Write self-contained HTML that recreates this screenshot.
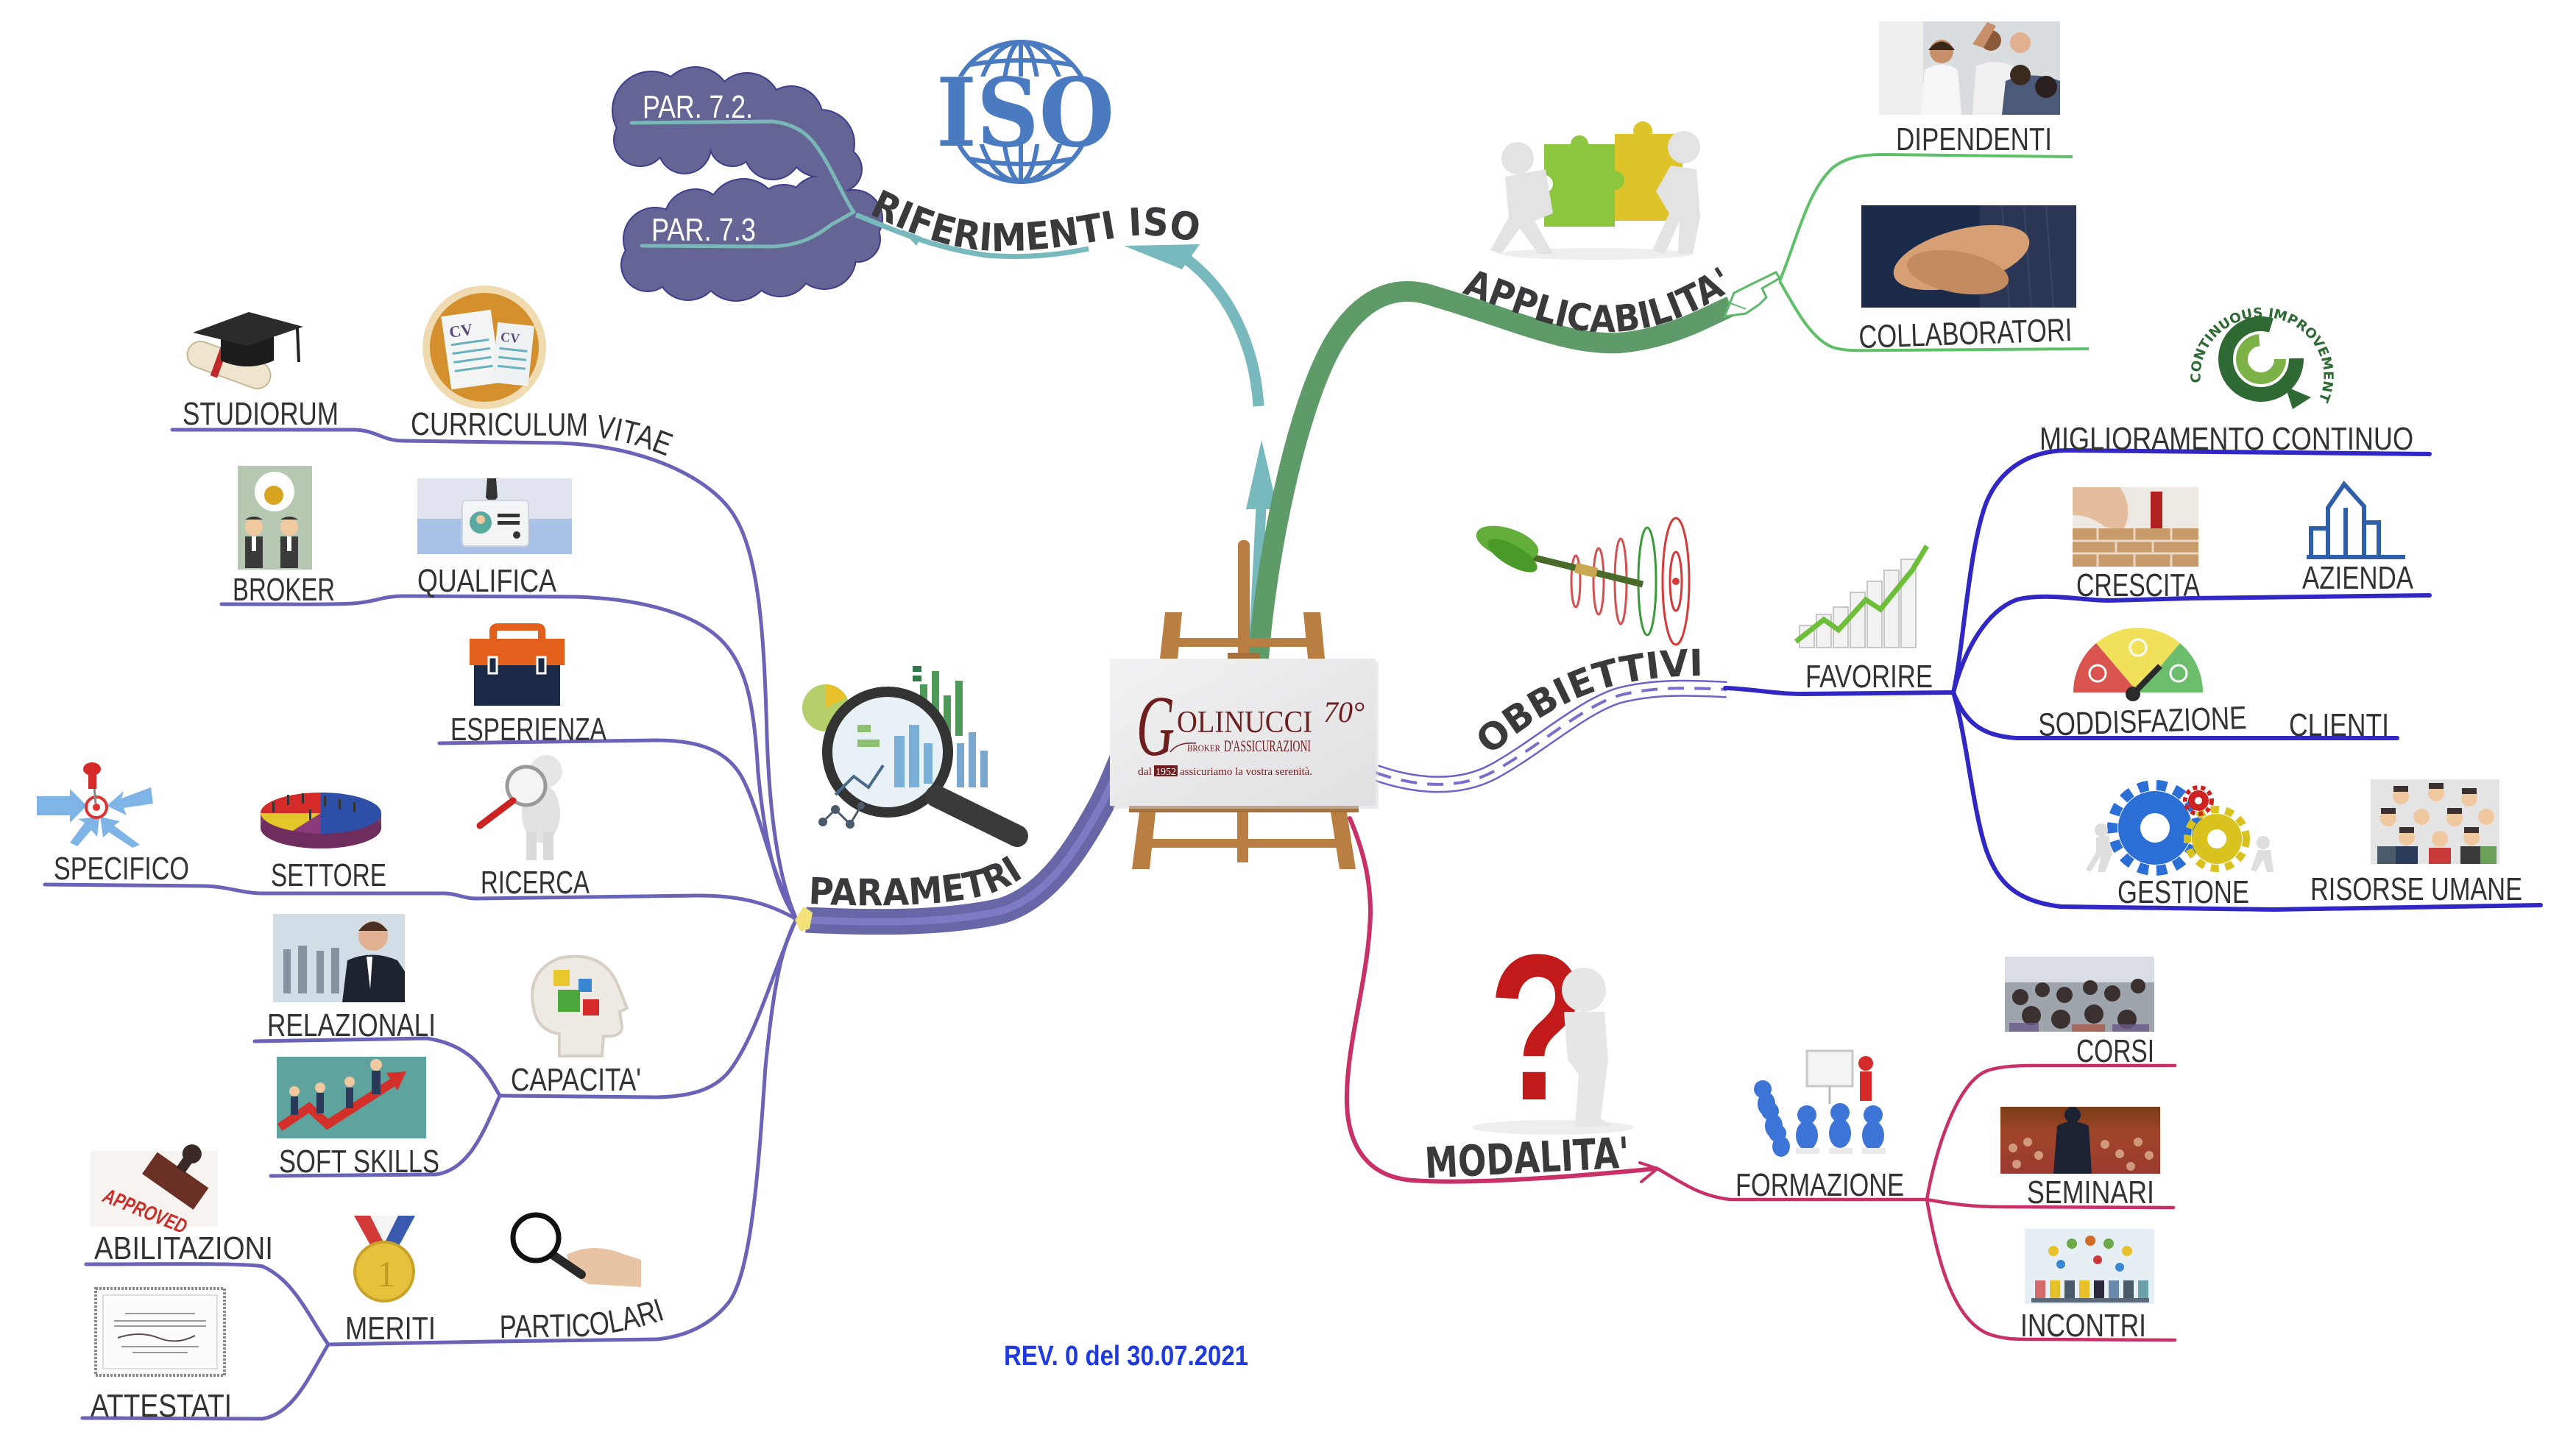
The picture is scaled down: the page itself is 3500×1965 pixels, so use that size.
<!DOCTYPE html>
<html><head><meta charset="utf-8">
<style>
html,body{margin:0;padding:0;background:#fff;}
svg{display:block;}
.l{font-family:"Liberation Sans",sans-serif;font-size:44px;fill:#323232;}
.b{font-family:"DejaVu Sans","Liberation Sans",sans-serif;font-weight:bold;fill:#3a3a3c;}
</style></head><body>
<svg width="3500" height="1965" viewBox="0 0 3500 1965" xmlns="http://www.w3.org/2000/svg">
<defs>
<linearGradient id="board" x1="0" y1="0" x2="1" y2="1"><stop offset="0" stop-color="#f2f2f3"/><stop offset="1" stop-color="#e0e0e2"/></linearGradient>
<linearGradient id="sem" x1="0" y1="0" x2="0" y2="1"><stop offset="0" stop-color="#7a3c18"/><stop offset="0.4" stop-color="#a0452a"/><stop offset="1" stop-color="#9a3a30"/></linearGradient>
<path id="pRif" d="M1180 290 C1250 324 1300 341 1360 341 C1430 341 1490 327 1530 321 C1570 317 1600 322 1645 334"/>
<path id="pApp" d="M1986 398 C2060 425 2120 452 2185 451 C2255 450 2305 425 2362 388"/>
<path id="pObb" d="M2024 1027 C2070 987 2130 946 2200 930 C2240 921 2280 918 2320 918"/>
<path id="pPar" d="M1098 1228 C1200 1233 1290 1230 1340 1216 C1365 1208 1385 1197 1402 1183"/>
<path id="pCV" d="M558 591 L785 592 Q850 595 915 624"/>
<path id="pPart" d="M679 1818 L790 1816 Q850 1812 912 1790"/>
<path id="pCI" d="M2990 520 A84 80 0 1 1 3148 548"/>
</defs>

<!-- ================= CLOUDS ================= -->
<g fill="#3d3d8c">
<circle cx="885" cy="150" r="54"/><circle cx="945" cy="140" r="50"/><circle cx="1015" cy="145" r="47"/><circle cx="1075" cy="160" r="44"/><circle cx="1115" cy="195" r="47"/><circle cx="870" cy="190" r="37"/><circle cx="930" cy="200" r="37"/><circle cx="995" cy="195" r="32"/><circle cx="1050" cy="205" r="40"/><circle cx="1140" cy="230" r="32"/>
<circle cx="890" cy="325" r="44"/><circle cx="945" cy="300" r="44"/><circle cx="1010" cy="292" r="50"/><circle cx="1065" cy="292" r="42"/><circle cx="1115" cy="282" r="44"/><circle cx="1160" cy="297" r="40"/><circle cx="880" cy="360" r="37"/><circle cx="935" cy="365" r="44"/><circle cx="1000" cy="360" r="50"/><circle cx="1060" cy="360" r="44"/><circle cx="1120" cy="350" r="44"/><circle cx="1165" cy="325" r="32"/>
</g>
<g fill="#646495">
<circle cx="885" cy="150" r="52"/><circle cx="945" cy="140" r="48"/><circle cx="1015" cy="145" r="45"/><circle cx="1075" cy="160" r="42"/><circle cx="1115" cy="195" r="45"/><circle cx="870" cy="190" r="35"/><circle cx="930" cy="200" r="35"/><circle cx="995" cy="195" r="30"/><circle cx="1050" cy="205" r="38"/><circle cx="1140" cy="230" r="30"/>
<circle cx="890" cy="325" r="42"/><circle cx="945" cy="300" r="42"/><circle cx="1010" cy="292" r="48"/><circle cx="1065" cy="292" r="40"/><circle cx="1115" cy="282" r="42"/><circle cx="1160" cy="297" r="38"/><circle cx="880" cy="360" r="35"/><circle cx="935" cy="365" r="42"/><circle cx="1000" cy="360" r="48"/><circle cx="1060" cy="360" r="42"/><circle cx="1120" cy="350" r="42"/><circle cx="1165" cy="325" r="30"/>
<rect x="880" y="140" width="200" height="60"/><rect x="890" y="300" width="240" height="60"/>
</g>
<g fill="none" stroke="#7ab8b8" stroke-width="5" stroke-linecap="round">
<path d="M858 167 L1050 165 C1090 170 1105 190 1120 215 C1140 250 1150 275 1160 288"/>
<path d="M872 334 L1050 335 C1090 333 1110 320 1130 305 L1160 288"/>
</g>
<text class="l" x="873" y="160" style="fill:#fff" font-size="40" textLength="150" lengthAdjust="spacingAndGlyphs">PAR. 7.2.</text>
<text class="l" x="885" y="327" style="fill:#fff" font-size="40" textLength="142" lengthAdjust="spacingAndGlyphs">PAR. 7.3</text>

<!-- ================= ISO LOGO ================= -->
<g stroke="#4a7bc0" stroke-width="6" fill="none">
<circle cx="1387" cy="152" r="95"/>
<ellipse cx="1387" cy="152" rx="60" ry="95"/>
<ellipse cx="1387" cy="152" rx="25" ry="95"/>
<line x1="1387" y1="57" x2="1387" y2="247"/>
<path d="M1318 88 Q1387 76 1456 88"/>
<path d="M1300 122 Q1387 108 1474 122"/>
<path d="M1300 184 Q1387 198 1474 184"/>
<path d="M1318 216 Q1387 230 1456 216"/>
</g>
<rect x="1262" y="104" width="266" height="92" fill="#fff"/>
<text x="1272" y="198" font-family="DejaVu Serif,Liberation Serif,serif" font-weight="bold" font-size="128" fill="#4a7bc0" textLength="242" lengthAdjust="spacingAndGlyphs">ISO</text>

<!-- ================= TEAL RIFERIMENTI ================= -->
<path d="M1163 292 C1200 306 1260 336 1341 347 C1400 352 1450 344 1479 338" fill="none" stroke="#78b9bd" stroke-width="7"/>
<polygon points="1225,312 1252,322 1245,334" fill="#78b9bd"/>
<path d="M1710 552 C1705 470 1670 395 1612 352" fill="none" stroke="#78b9bd" stroke-width="15"/>
<polygon points="1527,334 1630,332 1606,366" fill="#78b9bd"/>
<path d="M1714 680 L1703 892" fill="none" stroke="#78b9bd" stroke-width="14"/>
<polygon points="1714,598 1693,692 1736,692" fill="#78b9bd"/>

<!-- ================= GREEN APPLICABILITA ================= -->
<path d="M1710 895 C1720 760 1760 560 1810 470 C1850 400 1900 385 1950 403 C2050 432 2130 470 2200 466 C2270 460 2320 430 2352 416" fill="none" stroke="#5e9b69" stroke-width="28"/>
<g fill="none" stroke="#5fc06a" stroke-width="4">
<path d="M2418 382 C2440 330 2455 260 2490 228 C2510 212 2535 210 2560 210 L2816 213"/>
<path d="M2418 382 C2440 420 2460 460 2490 472 C2510 478 2530 476 2560 476 L2838 474"/>
</g>
<path d="M2343 430 L2356 398 L2380 386 L2413 370 L2418 378 L2394 392 L2400 404 L2390 414 L2372 426 Z" fill="#fff" stroke="#5cb86a" stroke-width="3"/>
<path d="M2346 410 L2372 420" stroke="#5cb86a" stroke-width="2"/>

<!-- ================= PURPLE PARAMETRI BAND ================= -->
<path d="M1095 1250 C1180 1254 1280 1256 1360 1238 C1420 1220 1460 1160 1493 1100 C1510 1070 1520 1040 1532 1015" fill="none" stroke="#6767a7" stroke-width="35"/>
<path d="M1095 1250 C1180 1254 1280 1256 1360 1238 C1420 1220 1460 1160 1493 1100 C1510 1070 1520 1040 1532 1015" fill="none" stroke="#7d7bc3" stroke-width="10"/>

<!-- left thin branch lines -->
<g fill="none" stroke="#6a63b8" stroke-width="5" stroke-linecap="round">
<path d="M234 584 L480 584 C510 584 520 599 547 599 L760 602 C860 605 950 640 990 690 C1030 740 1038 850 1042 1000 C1046 1120 1060 1200 1082 1249"/>
<path d="M301 821 C400 821 440 822 480 820 C510 818 520 810 547 810 L781 811 C860 813 940 830 980 870 C1015 905 1025 960 1030 1050 C1040 1150 1055 1210 1082 1249"/>
<path d="M597 1010 L893 1006 C950 1006 990 1020 1010 1060 C1035 1110 1045 1180 1082 1249"/>
<path d="M61 1202 L279 1204 C310 1205 330 1214 357 1214 L603 1214 C620 1214 630 1221 647 1221 L949 1217 C1000 1217 1040 1225 1082 1249"/>
<path d="M681 1489 L893 1491 C940 1490 975 1480 995 1450 C1030 1400 1050 1320 1082 1249"/>
<path d="M679 1489 C660 1455 640 1420 580 1411 L346 1415"/>
<path d="M679 1489 C660 1530 640 1590 592 1596 L368 1598"/>
<path d="M446 1827 L670 1823 L893 1820 C940 1815 970 1795 990 1770 C1020 1730 1030 1600 1040 1450 C1050 1350 1060 1290 1082 1249"/>
<path d="M446 1827 C420 1790 400 1740 357 1721 C330 1716 200 1718 117 1718"/>
<path d="M446 1827 C420 1870 400 1920 357 1928 L112 1927"/>
</g>
<polygon points="1092,1232 1104,1240 1100,1262 1088,1266 1080,1250" fill="#f3e27a"/>

<!-- ================= OBBIETTIVI ROAD ================= -->
<path d="M1869 1050 C1920 1068 1980 1075 2030 1048 C2090 1015 2150 960 2200 945 C2250 932 2300 935 2346 937" fill="none" stroke="#6c62c8" stroke-width="23"/>
<path d="M1869 1050 C1920 1068 1980 1075 2030 1048 C2090 1015 2150 960 2200 945 C2250 932 2300 935 2346 937" fill="none" stroke="#fff" stroke-width="18"/>
<path d="M1869 1050 C1920 1068 1980 1075 2030 1048 C2090 1015 2150 960 2200 945 C2250 932 2300 935 2346 937" fill="none" stroke="#7a6fcc" stroke-width="4" stroke-dasharray="22 14"/>
<g fill="none" stroke="#3127c4" stroke-width="6" stroke-linecap="round">
<path d="M2344 935 C2380 936 2410 943 2450 943 L2654 941"/>
<path d="M2654 941 C2668 880 2675 740 2700 680 C2720 635 2760 612 2810 612 L3301 617"/>
<path d="M2654 941 C2670 880 2700 830 2740 815 C2780 805 2830 816 2866 816 L2978 813 L3301 809"/>
<path d="M2654 941 C2670 980 2690 1000 2740 1003 L3257 1003"/>
<path d="M2654 941 C2672 1000 2680 1100 2699 1156 C2715 1200 2740 1225 2800 1232 L3089 1236 L3452 1230"/>
</g>

<!-- ================= CRIMSON MODALITA ================= -->
<g fill="none" stroke="#c93068" stroke-linecap="round">
<path d="M1834 1112 C1850 1150 1862 1190 1862 1240 C1860 1330 1828 1420 1830 1500 C1832 1560 1860 1600 1920 1604 C2000 1610 2150 1598 2250 1588" stroke-width="6"/>
<path d="M2228 1580 L2252 1588 L2230 1606" stroke-width="4"/>
<g stroke-width="4.5">
<path d="M2252 1588 C2290 1610 2310 1625 2350 1630 L2618 1630"/>
<path d="M2618 1630 C2630 1560 2660 1470 2700 1455 C2720 1448 2750 1448 2760 1448 L2955 1448"/>
<path d="M2618 1630 C2650 1636 2680 1640 2720 1640 L2953 1641"/>
<path d="M2618 1630 C2630 1700 2650 1790 2700 1812 C2720 1820 2740 1820 2760 1820 L2955 1821"/>
</g>
</g>

<!-- ================= EASEL ================= -->
<g fill="#b97e42">
<rect x="1682" y="734" width="16" height="160" rx="7"/>
<polygon points="1583,832 1606,832 1600,895 1576,895"/>
<polygon points="1771,832 1794,832 1800,895 1777,895"/>
<rect x="1600" y="867" width="178" height="12"/>
<rect x="1668" y="887" width="44" height="8" fill="#a8703a"/>
<rect x="1534" y="1094" width="312" height="10" fill="#a8703a"/>
<polygon points="1548,1104 1570,1104 1562,1181 1538,1181"/>
<polygon points="1808,1104 1830,1104 1842,1181 1820,1181"/>
<rect x="1681" y="1104" width="15" height="68"/>
<rect x="1558" y="1140" width="262" height="12"/>
</g>
<rect x="1512" y="899" width="361" height="200" fill="#d8d8d8" opacity="0.5"/>
<rect x="1508" y="895" width="361" height="200" fill="url(#board)"/>
<text x="1544" y="1026" font-family="Liberation Serif,serif" font-style="italic" font-size="118" fill="#6e1e1e" textLength="52" lengthAdjust="spacingAndGlyphs">G</text>
<text x="1599" y="995" font-family="Liberation Serif,serif" font-size="42" fill="#6e1e1e" textLength="184" lengthAdjust="spacingAndGlyphs">OLINUCCI</text>
<text x="1798" y="981" font-family="Liberation Serif,serif" font-style="italic" font-size="40" fill="#6e1e1e" textLength="56" lengthAdjust="spacingAndGlyphs">70°</text>
<path d="M1590 1022 Q1600 1008 1625 1010" fill="none" stroke="#6e1e1e" stroke-width="1.5"/>
<text x="1613" y="1021" font-family="Liberation Serif,serif" font-size="13" fill="#6e1e1e" textLength="45" lengthAdjust="spacingAndGlyphs">BROKER</text>
<text x="1663" y="1021" font-family="Liberation Serif,serif" font-size="22" fill="#6e1e1e" textLength="118" lengthAdjust="spacingAndGlyphs">D'ASSICURAZIONI</text>
<text x="1546" y="1053" font-family="Liberation Serif,serif" font-size="15" fill="#6e1e1e" textLength="19" lengthAdjust="spacingAndGlyphs">dal</text>
<rect x="1568" y="1040" width="32" height="15" fill="#6e1e1e"/>
<text x="1570" y="1053" font-family="Liberation Serif,serif" font-size="14" fill="#fff" textLength="28" lengthAdjust="spacingAndGlyphs">1952</text>
<text x="1603" y="1053" font-family="Liberation Serif,serif" font-size="15" fill="#6e1e1e" textLength="180" lengthAdjust="spacingAndGlyphs">assicuriamo la vostra serenità.</text>

<!-- ================= LEFT IMAGES ================= -->
<g transform="rotate(20 311 496)"><rect x="252" y="478" width="118" height="36" rx="18" fill="#efe5cf" stroke="#c8b894" stroke-width="2"/><rect x="292" y="476" width="10" height="42" fill="#c0282a"/></g>
<path d="M300 452 L372 452 L372 490 Q336 506 300 490 Z" fill="#1c1c1c"/>
<polygon points="262,452 338,424 412,444 336,470" fill="#2b2b2b"/>
<line x1="404" y1="446" x2="406" y2="492" stroke="#222" stroke-width="4"/>
<circle cx="658" cy="472" r="84" fill="#f0dab0"/>
<circle cx="658" cy="472" r="74" fill="#d3902c"/>
<g transform="rotate(-8 640 475)"><rect x="606" y="425" width="68" height="100" fill="#f4f6f6"/><g stroke="#6ab0c0" stroke-width="3"><line x1="614" y1="465" x2="666" y2="465"/><line x1="614" y1="477" x2="666" y2="477"/><line x1="614" y1="489" x2="666" y2="489"/><line x1="614" y1="501" x2="666" y2="501"/></g><text x="614" y="455" font-family="Liberation Serif,serif" font-weight="bold" font-size="22" fill="#5a4a7a">CV</text></g>
<g transform="rotate(6 694 480)"><rect x="672" y="440" width="50" height="82" fill="#eef2f2"/><g stroke="#6ab0c0" stroke-width="3"><line x1="678" y1="475" x2="716" y2="475"/><line x1="678" y1="487" x2="716" y2="487"/><line x1="678" y1="499" x2="716" y2="499"/></g><text x="678" y="465" font-family="Liberation Serif,serif" font-weight="bold" font-size="18" fill="#5a4a7a">CV</text></g>
<rect x="323" y="633" width="101" height="141" fill="#b6c8b2"/>
<circle cx="373" cy="668" r="27" fill="#fff"/><circle cx="372" cy="673" r="13" fill="#d8a520"/>
<circle cx="345" cy="716" r="12" fill="#f1c9a0"/><circle cx="393" cy="716" r="12" fill="#f1c9a0"/>
<path d="M333 706 Q345 698 357 706 Z" fill="#333"/><path d="M381 706 Q393 698 405 706 Z" fill="#333"/>
<rect x="333" y="729" width="24" height="43" fill="#3a3a3a"/><rect x="381" y="729" width="24" height="43" fill="#3a3a3a"/>
<rect x="342" y="729" width="6" height="20" fill="#fff"/><rect x="390" y="729" width="6" height="20" fill="#fff"/>
<rect x="567" y="650" width="210" height="55" fill="#dfe4ee"/>
<rect x="567" y="705" width="210" height="48" fill="#a9c1e6"/>
<path d="M662 650 L674 650 L676 676 L668 684 L660 676 Z" fill="#333"/>
<rect x="628" y="680" width="90" height="62" rx="5" fill="#f2f4f6" stroke="#cfd6de" stroke-width="2"/>
<circle cx="653" cy="710" r="15" fill="#5aa9a0"/><circle cx="653" cy="706" r="6" fill="#f1c9a0"/>
<rect x="676" y="698" width="30" height="5" fill="#333"/><rect x="676" y="708" width="30" height="5" fill="#333"/><circle cx="702" cy="727" r="5" fill="#333"/>
<path d="M670 872 L670 857 Q670 852 677 852 L730 852 Q736 852 736 857 L736 872" stroke="#e2601b" stroke-width="10" fill="none"/>
<rect x="638" y="868" width="129" height="36" fill="#e2601b"/>
<rect x="644" y="904" width="117" height="55" fill="#1b2846"/>
<rect x="664" y="893" width="11" height="22" fill="#1b2846" stroke="#fff" stroke-width="3"/>
<rect x="730" y="893" width="11" height="22" fill="#1b2846" stroke="#fff" stroke-width="3"/>
<g fill="#7fb4e6">
<polygon points="50,1082 95,1082 95,1072 118,1095 95,1118 95,1108 50,1108"/>
<polygon points="205,1070 165,1085 168,1075 145,1095 172,1108 168,1098 208,1092"/>
<polygon points="95,1145 115,1118 106,1113 135,1110 132,1137 124,1128 105,1150"/>
<polygon points="190,1148 155,1122 163,1116 136,1110 140,1138 148,1131 180,1152"/>
</g>
<circle cx="131" cy="1097" r="14" fill="#fff" stroke="#d33" stroke-width="4"/><circle cx="131" cy="1097" r="5" fill="#d33"/>
<line x1="126" y1="1048" x2="130" y2="1092" stroke="#888" stroke-width="3"/>
<ellipse cx="125" cy="1045" rx="12" ry="9" fill="#d42a2a"/><rect x="120" y="1050" width="11" height="22" fill="#d42a2a"/>
<path d="M354 1105 L354 1125 A82 28 0 0 0 518 1125 L518 1105 Z" fill="#7a3a6a"/>
<ellipse cx="436" cy="1125" rx="82" ry="28" fill="#6e2d5c"/>
<path d="M436 1105 L436 1077 A82 28 0 0 1 436 1133 Z" fill="#2d4fa8"/>
<path d="M436 1105 L354 1105 A82 28 0 0 1 436 1077 Z" fill="#d42a2a"/>
<path d="M436 1105 L354 1105 A82 28 0 0 0 398 1129 Z" fill="#e2c62a"/>
<path d="M436 1105 L398 1129 A82 28 0 0 0 436 1133 Z" fill="#8a3a7a"/>
<g fill="#333"><rect x="390" y="1080" width="3" height="14"/><rect x="410" y="1078" width="3" height="14"/><rect x="440" y="1082" width="3" height="14"/><rect x="460" y="1086" width="3" height="14"/><rect x="480" y="1090" width="3" height="14"/><rect x="420" y="1100" width="3" height="14"/><rect x="370" y="1090" width="3" height="14"/></g>
<circle cx="742" cy="1048" r="22" fill="#e6e6e6"/>
<ellipse cx="735" cy="1105" rx="26" ry="40" fill="#e2e2e2"/>
<rect x="715" y="1130" width="14" height="39" fill="#dadada"/><rect x="738" y="1130" width="14" height="39" fill="#dadada"/>
<circle cx="715" cy="1068" r="26" fill="#f4f4f4" stroke="#9a9a9a" stroke-width="5"/>
<line x1="697" y1="1088" x2="652" y2="1122" stroke="#c22" stroke-width="9" stroke-linecap="round"/>
<rect x="371" y="1242" width="179" height="120" fill="#d3dde6"/>
<g fill="#556070" opacity="0.6"><rect x="385" y="1290" width="10" height="60"/><rect x="405" y="1285" width="12" height="65"/><rect x="430" y="1292" width="10" height="58"/><rect x="450" y="1288" width="11" height="62"/></g>
<path d="M465 1362 L472 1305 Q505 1290 540 1305 L550 1320 L550 1362 Z" fill="#1d2430"/>
<path d="M498 1300 L506 1300 L503 1345 Z" fill="#fff"/>
<circle cx="507" cy="1272" r="20" fill="#e0b090"/><path d="M487 1265 Q507 1240 527 1265 Z" fill="#4a3020"/>
<path d="M760 1435 L760 1405 Q730 1400 725 1370 Q715 1320 760 1302 Q820 1290 840 1340 L852 1370 L842 1375 L845 1395 Q845 1410 820 1408 L818 1435 Z" fill="#efebe4" stroke="#d6d0c4" stroke-width="4"/>
<rect x="752" y="1318" width="22" height="22" fill="#e8c82a"/>
<rect x="786" y="1330" width="18" height="18" fill="#3a86d0"/>
<rect x="758" y="1345" width="30" height="30" fill="#4aa83a"/>
<rect x="792" y="1358" width="22" height="22" fill="#d42a2a"/>
<rect x="376" y="1436" width="203" height="111" fill="#5ea39d"/>
<polyline points="380,1532 420,1505 445,1528 535,1470" fill="none" stroke="#d4302a" stroke-width="12"/>
<polygon points="525,1458 552,1456 540,1482" fill="#d4302a"/>
<g fill="#2a3a5a"><rect x="395" y="1490" width="10" height="25"/><rect x="430" y="1485" width="10" height="28"/><rect x="470" y="1478" width="10" height="28"/><rect x="505" y="1455" width="12" height="32"/></g>
<g fill="#f1c9a0"><circle cx="400" cy="1483" r="7"/><circle cx="435" cy="1478" r="7"/><circle cx="475" cy="1470" r="7"/><circle cx="511" cy="1447" r="8"/></g>
<rect x="123" y="1564" width="173" height="103" fill="#f7f3f1"/>
<g transform="rotate(35 235 1605)"><rect x="195" y="1585" width="85" height="36" fill="#6a2f25"/><rect x="228" y="1565" width="14" height="22" fill="#3a2a25"/><circle cx="235" cy="1560" r="13" fill="#3a2a25"/></g>
<text x="0" y="0" transform="translate(138 1632) rotate(22)" font-family="Liberation Sans,sans-serif" font-weight="bold" font-style="italic" font-size="28" fill="#c8302a" textLength="120" lengthAdjust="spacingAndGlyphs">APPROVED</text>
<rect x="130" y="1751" width="175" height="118" fill="#fcfcfc" stroke="#8a8a8a" stroke-width="4" stroke-dasharray="3 2"/>
<rect x="140" y="1760" width="155" height="100" fill="none" stroke="#c0c0c0" stroke-width="1"/>
<g stroke="#9a9a9a" stroke-width="2"><line x1="170" y1="1785" x2="265" y2="1785"/><line x1="155" y1="1795" x2="280" y2="1795"/><line x1="155" y1="1802" x2="280" y2="1802"/><line x1="165" y1="1830" x2="270" y2="1830"/><line x1="180" y1="1838" x2="255" y2="1838"/></g>
<path d="M160 1818 Q190 1808 215 1818 T265 1815" fill="none" stroke="#5a4a4a" stroke-width="2"/>
<polygon points="481,1652 503,1652 530,1702 512,1708" fill="#d23a3a"/>
<polygon points="503,1652 541,1652 522,1690" fill="#f4f4f4"/>
<polygon points="541,1652 564,1652 534,1708 516,1702" fill="#3a5ab0"/>
<circle cx="522" cy="1728" r="40" fill="#e6c13c" stroke="#c9a22a" stroke-width="4"/>
<text x="512" y="1748" font-family="Liberation Serif,serif" font-size="50" fill="#c49a22">1</text>
<path d="M770 1705 Q800 1690 835 1700 L871 1712 L871 1749 L800 1745 Q775 1735 770 1705 Z" fill="#e9c4a4"/>
<line x1="752" y1="1706" x2="790" y2="1732" stroke="#2a2a2a" stroke-width="12" stroke-linecap="round"/>
<circle cx="728" cy="1682" r="31" fill="#fff" stroke="#111" stroke-width="7"/>
<circle cx="1122" cy="962" r="32" fill="#b5cf6a"/>
<path d="M1122 962 L1122 930 A32 32 0 0 1 1150 948 Z" fill="#e8c02a"/>
<g fill="#4f9a5a"><rect x="1250" y="930" width="10" height="70"/><rect x="1266" y="912" width="10" height="88"/><rect x="1282" y="945" width="10" height="55"/><rect x="1298" y="925" width="10" height="75"/></g>
<g fill="#2f7a4a"><rect x="1240" y="905" width="12" height="8"/><rect x="1240" y="918" width="12" height="8"/></g>
<g fill="#7aa6d0"><rect x="1300" y="1010" width="10" height="60"/><rect x="1316" y="995" width="10" height="75"/><rect x="1332" y="1020" width="10" height="50"/></g>
<circle cx="1206" cy="1022" r="82" fill="#e8f1f6" stroke="#333" stroke-width="14"/>
<g fill="#7ab0d8"><rect x="1215" y="1000" width="14" height="70"/><rect x="1235" y="985" width="14" height="85"/><rect x="1255" y="1010" width="12" height="55"/></g>
<g fill="#8cc070"><rect x="1165" y="985" width="18" height="10"/><rect x="1165" y="1005" width="30" height="10"/></g>
<polyline points="1135,1080 1160,1055 1180,1070 1200,1040" fill="none" stroke="#4a6a8a" stroke-width="4"/>
<line x1="1272" y1="1082" x2="1382" y2="1136" stroke="#3a3a3a" stroke-width="30" stroke-linecap="round"/>
<g fill="#4a5a6a"><circle cx="1118" cy="1117" r="6"/><circle cx="1135" cy="1100" r="6"/><circle cx="1155" cy="1120" r="6"/><circle cx="1170" cy="1095" r="5"/></g>
<polyline points="1118,1117 1135,1100 1155,1120 1170,1095" fill="none" stroke="#4a5a6a" stroke-width="3"/>

<!-- ================= RIGHT IMAGES ================= -->
<ellipse cx="2170" cy="345" rx="130" ry="8" fill="#eeeeee"/>
<rect x="2098" y="196" width="96" height="112" fill="#8dc63f"/>
<circle cx="2146" cy="196" r="12" fill="#8dc63f"/><circle cx="2098" cy="250" r="12" fill="#fff"/>
<rect x="2194" y="182" width="92" height="118" fill="#dcc42a"/>
<circle cx="2232" cy="178" r="13" fill="#dcc42a"/><circle cx="2194" cy="245" r="13" fill="#8dc63f"/>
<g fill="#e3e3e3">
<circle cx="2062" cy="215" r="22"/><path d="M2045 240 L2100 230 L2110 290 L2085 300 L2110 345 L2090 345 L2065 310 L2040 345 L2025 340 L2050 295 Z"/>
<circle cx="2288" cy="200" r="22"/><path d="M2270 225 L2305 230 L2310 295 L2300 345 L2280 345 L2282 300 L2262 345 L2245 340 L2268 290 L2250 260 Z"/>
</g>
<rect x="2553" y="29" width="246" height="127" fill="#d9dde0"/>
<rect x="2553" y="29" width="60" height="127" fill="#eef0f0"/>
<path d="M2610 156 L2615 95 Q2640 80 2660 95 L2665 156 Z" fill="#f6f6f6"/>
<circle cx="2638" cy="70" r="16" fill="#c8906a"/><path d="M2620 68 Q2638 45 2656 68 Z" fill="#3a2818"/>
<circle cx="2705" cy="55" r="14" fill="#8a5a3a"/><circle cx="2745" cy="58" r="14" fill="#e0b090"/>
<path d="M2680 156 L2685 90 Q2710 78 2735 90 L2740 156 Z" fill="#f0f0f0"/>
<path d="M2720 156 L2725 110 Q2760 95 2799 110 L2799 156 Z" fill="#4a5a78"/>
<circle cx="2745" cy="102" r="14" fill="#3a2a20"/><circle cx="2780" cy="118" r="15" fill="#2a2020"/>
<path d="M2680 60 L2700 30 L2712 35 L2695 65 Z" fill="#c8906a"/>
<rect x="2529" y="279" width="292" height="139" fill="#1c2a4a"/>
<rect x="2690" y="279" width="131" height="139" fill="#2b3654"/>
<g stroke="#3a4566" stroke-width="2"><line x1="2720" y1="279" x2="2730" y2="418"/><line x1="2750" y1="279" x2="2760" y2="418"/><line x1="2780" y1="279" x2="2790" y2="418"/></g>
<ellipse cx="2665" cy="350" rx="95" ry="38" fill="#d7a074" transform="rotate(-15 2665 350)"/>
<ellipse cx="2660" cy="370" rx="70" ry="28" fill="#c48a60" transform="rotate(10 2660 370)"/>
<circle cx="3072" cy="488" r="48" fill="none" stroke="#2f6a35" stroke-width="20" stroke-dasharray="240 60"/>
<circle cx="3072" cy="488" r="26" fill="none" stroke="#7db248" stroke-width="16" stroke-dasharray="120 43"/>
<polygon points="3105,525 3140,540 3115,556" fill="#2f6a35"/>
<text font-family="DejaVu Sans,sans-serif" font-weight="bold" font-size="18" fill="#2f6a35"><textPath href="#pCI" textLength="300" lengthAdjust="spacingAndGlyphs">CONTINUOUS IMPROVEMENT</textPath></text>
<g fill="none" stroke-width="3">
<ellipse cx="2141" cy="790" rx="6" ry="35" stroke="#d45050"/>
<ellipse cx="2172" cy="790" rx="7" ry="45" stroke="#d45050"/>
<ellipse cx="2202" cy="790" rx="8" ry="58" stroke="#d45050"/>
<ellipse cx="2238" cy="790" rx="12" ry="73" stroke="#3a9a3a"/>
<ellipse cx="2277" cy="790" rx="18" ry="86" stroke="#d43a3a"/>
<ellipse cx="2277" cy="790" rx="8" ry="40" stroke="#d43a3a"/>
</g>
<circle cx="2277" cy="790" r="5" fill="#d43a3a"/>
<line x1="2060" y1="752" x2="2232" y2="794" stroke="#4a6a2a" stroke-width="9"/>
<rect x="2140" y="768" width="30" height="14" fill="#c8a850" transform="rotate(14 2155 775)"/>
<ellipse cx="2048" cy="738" rx="44" ry="20" fill="#63ad3a" transform="rotate(18 2048 738)"/>
<ellipse cx="2055" cy="755" rx="38" ry="14" fill="#4a9a2a" transform="rotate(30 2055 755)"/>
<g fill="#f2f2f2" stroke="#c8c8c8" stroke-width="2">
<rect x="2445" y="850" width="20" height="30"/><rect x="2468" y="835" width="20" height="45"/><rect x="2491" y="825" width="20" height="55"/><rect x="2514" y="805" width="20" height="75"/><rect x="2537" y="790" width="20" height="90"/><rect x="2560" y="775" width="20" height="105"/><rect x="2583" y="760" width="20" height="120"/>
</g>
<polyline points="2440,872 2478,842 2498,856 2535,815 2555,828 2598,775 2618,742" fill="none" stroke="#6dbf3a" stroke-width="7"/>
<rect x="2816" y="662" width="171" height="108" fill="#efe9e3"/>
<path d="M2816 662 L2880 662 Q2900 690 2885 720 L2860 716 Q2840 700 2816 700 Z" fill="#e3bd9c"/>
<rect x="2922" y="668" width="16" height="60" fill="#b02222"/>
<rect x="2816" y="718" width="171" height="52" fill="#c99a6a"/>
<g stroke="#ead8c4" stroke-width="3"><line x1="2816" y1="735" x2="2987" y2="735"/><line x1="2816" y1="752" x2="2987" y2="752"/><line x1="2850" y1="718" x2="2850" y2="735"/><line x1="2900" y1="718" x2="2900" y2="735"/><line x1="2950" y1="718" x2="2950" y2="735"/><line x1="2875" y1="735" x2="2875" y2="752"/><line x1="2925" y1="735" x2="2925" y2="752"/><line x1="2850" y1="752" x2="2850" y2="770"/><line x1="2900" y1="752" x2="2900" y2="770"/><line x1="2950" y1="752" x2="2950" y2="770"/></g>
<g fill="none" stroke="#2f5fa8" stroke-width="6">
<path d="M3163 757 L3163 690 L3185 658 L3212 688 L3212 757"/>
<path d="M3140 757 L3140 718 L3163 718"/>
<path d="M3212 757 L3212 710 L3232 710 L3232 757"/>
<line x1="3134" y1="757" x2="3268" y2="757"/>
<line x1="3187" y1="690" x2="3187" y2="757"/>
</g>
<path d="M2905 941 L2817 941 A88 88 0 0 1 2848 874 Z" fill="#d9534f"/>
<path d="M2905 941 L2848 874 A88 88 0 0 1 2962 874 Z" fill="#f0e05a"/>
<path d="M2905 941 L2962 874 A88 88 0 0 1 2993 941 Z" fill="#6cbd6c"/>
<g fill="none" stroke="#fff" stroke-width="3"><circle cx="2850" cy="915" r="11"/><circle cx="2905" cy="880" r="11"/><circle cx="2960" cy="915" r="11"/></g>
<line x1="2900" y1="941" x2="2935" y2="905" stroke="#2a2a2a" stroke-width="8"/>
<circle cx="2898" cy="943" r="10" fill="#2a2a2a"/>
<circle cx="2928" cy="1125" r="50" fill="#2b6fd6"/>
<circle cx="2928" cy="1125" r="58" fill="none" stroke="#2b6fd6" stroke-width="14" stroke-dasharray="14 11"/>
<circle cx="2928" cy="1125" r="20" fill="#fff"/>
<circle cx="3012" cy="1140" r="34" fill="#d9c21e"/>
<circle cx="3012" cy="1140" r="40" fill="none" stroke="#d9c21e" stroke-width="10" stroke-dasharray="11 9"/>
<circle cx="3012" cy="1140" r="13" fill="#fff"/>
<circle cx="2987" cy="1088" r="14" fill="#cc2222"/>
<circle cx="2987" cy="1088" r="18" fill="none" stroke="#cc2222" stroke-width="6" stroke-dasharray="6 5"/>
<circle cx="2987" cy="1088" r="5" fill="#fff"/>
<g fill="#dedede"><circle cx="2855" cy="1128" r="9"/><path d="M2848 1138 L2865 1135 L2870 1160 L2860 1185 L2850 1185 L2855 1162 L2840 1185 L2834 1182 L2848 1158 Z"/><circle cx="3075" cy="1145" r="9"/><path d="M3068 1155 L3085 1155 L3089 1185 L3080 1185 L3075 1168 L3065 1185 L3058 1182 Z"/></g>
<rect x="3221" y="1059" width="175" height="115" fill="#e4e4e4"/>
<g fill="#f0c8a0"><circle cx="3262" cy="1082" r="11"/><circle cx="3310" cy="1078" r="11"/><circle cx="3355" cy="1085" r="11"/><circle cx="3245" cy="1112" r="11"/><circle cx="3290" cy="1110" r="11"/><circle cx="3335" cy="1112" r="11"/><circle cx="3378" cy="1110" r="11"/><circle cx="3270" cy="1138" r="11"/><circle cx="3315" cy="1140" r="11"/><circle cx="3358" cy="1138" r="11"/></g>
<g fill="#3a3030"><rect x="3252" y="1068" width="20" height="8"/><rect x="3300" y="1064" width="20" height="8"/><rect x="3345" y="1071" width="20" height="8"/><rect x="3235" y="1098" width="20" height="8"/><rect x="3325" y="1098" width="20" height="8"/><rect x="3260" y="1124" width="20" height="8"/><rect x="3348" y="1124" width="20" height="8"/></g>
<g><rect x="3230" y="1150" width="30" height="24" fill="#4a5a6a"/><rect x="3255" y="1150" width="30" height="24" fill="#2a3a5a"/><rect x="3300" y="1152" width="30" height="22" fill="#c83a3a"/><rect x="3343" y="1150" width="30" height="24" fill="#3a3a3a"/><rect x="3370" y="1150" width="22" height="24" fill="#6aa05a"/></g>
<ellipse cx="2110" cy="1532" rx="110" ry="10" fill="#eeeeee"/>
<text x="2022" y="1494" font-family="Liberation Sans,sans-serif" font-weight="bold" font-size="283" fill="#c21a1a" textLength="134" lengthAdjust="spacingAndGlyphs">?</text>
<g fill="#e6e6e6"><circle cx="2152" cy="1345" r="30"/><path d="M2125 1375 L2180 1375 L2185 1440 L2175 1520 L2190 1530 L2140 1532 L2145 1460 L2130 1440 Z"/></g>
<rect x="2455" y="1428" width="62" height="48" fill="#f4f4f4" stroke="#c8c8c8" stroke-width="3"/>
<line x1="2486" y1="1476" x2="2486" y2="1500" stroke="#bbb" stroke-width="3"/>
<circle cx="2535" cy="1445" r="10" fill="#d42a2a"/><rect x="2527" y="1456" width="16" height="40" fill="#d42a2a"/>
<g fill="#3d74d8"><circle cx="2395" cy="1480" r="12"/><circle cx="2405" cy="1510" r="12"/><circle cx="2415" cy="1540" r="12"/><circle cx="2455" cy="1515" r="13"/><circle cx="2500" cy="1512" r="13"/><circle cx="2545" cy="1515" r="13"/>
<ellipse cx="2400" cy="1500" rx="12" ry="16"/><ellipse cx="2410" cy="1530" rx="12" ry="16"/><ellipse cx="2420" cy="1558" rx="12" ry="14"/><ellipse cx="2455" cy="1543" rx="15" ry="20"/><ellipse cx="2500" cy="1540" rx="15" ry="20"/><ellipse cx="2545" cy="1543" rx="15" ry="20"/></g>
<g fill="#eaeaea"><rect x="2440" y="1560" width="32" height="8"/><rect x="2485" y="1560" width="32" height="8"/><rect x="2530" y="1560" width="32" height="8"/></g>
<rect x="2724" y="1300" width="203" height="102" fill="#9ea4ac"/>
<rect x="2724" y="1300" width="203" height="35" fill="#d8dee4"/>
<g fill="#3a3030"><circle cx="2745" cy="1355" r="11"/><circle cx="2775" cy="1345" r="10"/><circle cx="2805" cy="1352" r="11"/><circle cx="2840" cy="1342" r="10"/><circle cx="2870" cy="1350" r="11"/><circle cx="2905" cy="1340" r="10"/><circle cx="2760" cy="1380" r="13"/><circle cx="2800" cy="1385" r="13"/><circle cx="2845" cy="1378" r="13"/><circle cx="2890" cy="1385" r="13"/></g>
<g fill="#6a5a8a" opacity="0.8"><rect x="2730" y="1390" width="40" height="12"/><rect x="2815" y="1392" width="45" height="10" fill="#a85a4a"/><rect x="2870" y="1392" width="50" height="10"/></g>
<rect x="2718" y="1504" width="217" height="91" fill="url(#sem)"/>
<g fill="#e8c0a0" opacity="0.7"><circle cx="2735" cy="1560" r="6"/><circle cx="2755" cy="1552" r="6"/><circle cx="2770" cy="1570" r="6"/><circle cx="2860" cy="1555" r="6"/><circle cx="2880" cy="1568" r="6"/><circle cx="2905" cy="1552" r="6"/><circle cx="2920" cy="1570" r="6"/><circle cx="2740" cy="1582" r="6"/><circle cx="2895" cy="1585" r="6"/></g>
<path d="M2790 1595 L2795 1530 Q2815 1518 2838 1530 L2842 1595 Z" fill="#1b2333"/>
<circle cx="2816" cy="1515" r="11" fill="#1b2333"/>
<rect x="2751" y="1670" width="176" height="102" fill="#e6f0f4"/>
<g><circle cx="2790" cy="1700" r="7" fill="#e8c02a"/><circle cx="2815" cy="1690" r="7" fill="#6aa84a"/><circle cx="2840" cy="1686" r="7" fill="#d46a2a"/><circle cx="2865" cy="1690" r="7" fill="#6aa84a"/><circle cx="2890" cy="1700" r="7" fill="#e8c02a"/><circle cx="2800" cy="1718" r="6" fill="#3a86d0"/><circle cx="2850" cy="1712" r="6" fill="#c83a3a"/><circle cx="2880" cy="1722" r="6" fill="#3a86d0"/></g>
<g><rect x="2765" y="1740" width="14" height="26" fill="#d46a6a"/><rect x="2785" y="1740" width="14" height="26" fill="#e8c02a"/><rect x="2805" y="1740" width="14" height="26" fill="#4a5a6a"/><rect x="2825" y="1740" width="14" height="26" fill="#e8c02a"/><rect x="2845" y="1740" width="14" height="26" fill="#2a2a3a"/><rect x="2865" y="1740" width="14" height="26" fill="#6a8ab0"/><rect x="2885" y="1740" width="14" height="26" fill="#4a5a6a"/><rect x="2905" y="1740" width="14" height="26" fill="#6aa0a8"/></g>
<rect x="2760" y="1764" width="160" height="6" fill="#5a6a7a"/>

<!-- ================= BOLD TITLES ================= -->
<text class="b" font-size="52"><textPath href="#pRif" textLength="458" lengthAdjust="spacingAndGlyphs">RIFERIMENTI ISO</textPath></text>
<text class="b" font-size="50"><textPath href="#pApp" textLength="392" lengthAdjust="spacingAndGlyphs">APPLICABILITA'</textPath></text>
<text class="b" font-size="50"><textPath href="#pObb" textLength="318" lengthAdjust="spacingAndGlyphs">OBBIETTIVI</textPath></text>
<text class="b" font-size="50"><textPath href="#pPar" textLength="300" lengthAdjust="spacingAndGlyphs">PARAMETRI</textPath></text>
<text class="b" x="1937" y="1601" font-size="58" transform="rotate(-3 1937 1601)" textLength="278" lengthAdjust="spacingAndGlyphs">MODALITA'</text>

<!-- ================= LABELS ================= -->
<g class="l">
<text x="248" y="577" textLength="212" lengthAdjust="spacingAndGlyphs">STUDIORUM</text>
<text><textPath href="#pCV" textLength="352" lengthAdjust="spacingAndGlyphs">CURRICULUM VITAE</textPath></text>
<text x="316" y="816" textLength="139" lengthAdjust="spacingAndGlyphs">BROKER</text>
<text x="567" y="804" textLength="189" lengthAdjust="spacingAndGlyphs">QUALIFICA</text>
<text x="612" y="1006" textLength="212" lengthAdjust="spacingAndGlyphs">ESPERIENZA</text>
<text x="73" y="1195" textLength="184" lengthAdjust="spacingAndGlyphs">SPECIFICO</text>
<text x="368" y="1204" textLength="157" lengthAdjust="spacingAndGlyphs">SETTORE</text>
<text x="653" y="1214" textLength="148" lengthAdjust="spacingAndGlyphs">RICERCA</text>
<text x="363" y="1408" textLength="229" lengthAdjust="spacingAndGlyphs">RELAZIONALI</text>
<text x="694" y="1482" textLength="177" lengthAdjust="spacingAndGlyphs">CAPACITA'</text>
<text x="379" y="1593" textLength="218" lengthAdjust="spacingAndGlyphs">SOFT SKILLS</text>
<text x="128" y="1711" textLength="243" lengthAdjust="spacingAndGlyphs">ABILITAZIONI</text>
<text x="469" y="1820" textLength="123" lengthAdjust="spacingAndGlyphs">MERITI</text>
<text><textPath href="#pPart" textLength="228" lengthAdjust="spacingAndGlyphs">PARTICOLARI</textPath></text>
<text x="123" y="1925" textLength="192" lengthAdjust="spacingAndGlyphs">ATTESTATI</text>

<text x="2576" y="204" textLength="212" lengthAdjust="spacingAndGlyphs">DIPENDENTI</text>
<text x="2526" y="473" textLength="290" lengthAdjust="spacingAndGlyphs" transform="rotate(-2 2526 473)">COLLABORATORI</text>
<text x="2771" y="611" textLength="508" lengthAdjust="spacingAndGlyphs">MIGLIORAMENTO CONTINUO</text>
<text x="2453" y="934" textLength="173" lengthAdjust="spacingAndGlyphs">FAVORIRE</text>
<text x="2821" y="810" textLength="168" lengthAdjust="spacingAndGlyphs">CRESCITA</text>
<text x="3128" y="800" textLength="151" lengthAdjust="spacingAndGlyphs">AZIENDA</text>
<text x="2770" y="1000" textLength="283" lengthAdjust="spacingAndGlyphs" transform="rotate(-2 2770 1000)">SODDISFAZIONE</text>
<text x="3110" y="1000" textLength="136" lengthAdjust="spacingAndGlyphs">CLIENTI</text>
<text x="2877" y="1227" textLength="179" lengthAdjust="spacingAndGlyphs">GESTIONE</text>
<text x="3139" y="1223" textLength="288" lengthAdjust="spacingAndGlyphs">RISORSE UMANE</text>
<text x="2358" y="1625" textLength="229" lengthAdjust="spacingAndGlyphs">FORMAZIONE</text>
<text x="2821" y="1443" textLength="106" lengthAdjust="spacingAndGlyphs">CORSI</text>
<text x="2754" y="1635" textLength="173" lengthAdjust="spacingAndGlyphs">SEMINARI</text>
<text x="2745" y="1816" textLength="171" lengthAdjust="spacingAndGlyphs">INCONTRI</text>
</g>

<text x="1364" y="1855" font-family="Liberation Sans,sans-serif" font-weight="bold" font-size="38" fill="#1f3ae0" textLength="332" lengthAdjust="spacingAndGlyphs">REV. 0 del 30.07.2021</text>
</svg>
</body></html>
